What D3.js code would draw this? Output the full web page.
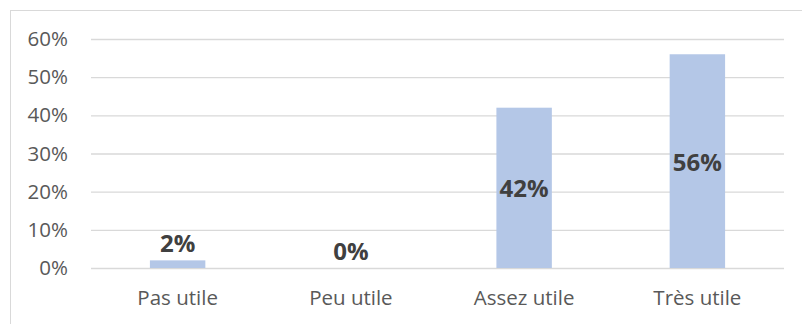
<!DOCTYPE html>
<html>
<head>
<meta charset="utf-8">
<script src="https://cdn.jsdelivr.net/npm/d3@7"></script>
<style>
  html, body { margin: 0; padding: 0; background: #fff; }
  svg { display: block; }
</style>
</head>
<body>
<svg id="chart" width="802" height="324"></svg>
<script>
// Réponses à la question d'utilité
const categories = ["Pas utile", "Peu utile", "Assez utile", "Très utile"];
const values = [0.02, 0.00, 0.42, 0.56];
const tickValues = [0, 0.1, 0.2, 0.3, 0.4, 0.5, 0.6];

const svg = d3.select("#chart");
const W = 802, H = 324;
const margin = { left: 91, right: 18, top: 39, bottom: 56 };
const font = "'Open Sans', 'Noto Sans', sans-serif";

// Chart frame
svg.append("rect")
  .attr("x", 10.5).attr("y", 10.5)
  .attr("width", W + 10).attr("height", H + 10)
  .attr("fill", "none").attr("stroke", "#d9d9d9").attr("stroke-width", 1);

const x = d3.scaleBand()
  .domain(categories)
  .range([margin.left, W - margin.right])
  .paddingInner(0.68).paddingOuter(0.34);

const y = d3.scaleLinear()
  .domain([0, 0.6])
  .range([H - margin.bottom, margin.top]);

// Horizontal gridlines with percentage labels
const yAxis = d3.axisLeft(y)
  .tickValues(tickValues)
  .tickFormat(d3.format(".0%"))
  .tickSize(-(W - margin.right - margin.left))
  .tickPadding(23);

const gy = svg.append("g")
  .attr("transform", `translate(${margin.left},0)`)
  .call(yAxis);
gy.select(".domain").remove();
gy.selectAll(".tick line").attr("stroke", "#d9d9d9").attr("stroke-width", 1.3);
gy.selectAll(".tick text")
  .attr("fill", "#595959")
  .style("font-family", font)
  .style("font-size", "20.5px");

// Category axis
const xAxis = d3.axisBottom(x).tickSize(0).tickPadding(22);
const gx = svg.append("g")
  .attr("transform", `translate(0,${H - margin.bottom})`)
  .call(xAxis);
gx.select(".domain").remove();
gx.selectAll(".tick text")
  .attr("fill", "#595959")
  .style("font-family", font)
  .style("font-size", "20.5px");

// Bars
svg.append("g").selectAll("rect")
  .data(values)
  .join("rect")
  .attr("x", (d, i) => x(categories[i]))
  .attr("y", d => y(d))
  .attr("width", x.bandwidth())
  .attr("height", d => y(0) - y(d))
  .attr("fill", "#b4c7e7");

// Value labels: centred inside tall bars, above short ones
svg.append("g").selectAll("text")
  .data(values)
  .join("text")
  .attr("x", (d, i) => x(categories[i]) + x.bandwidth() / 2)
  .attr("y", d => d > 0.1 ? (y(d) + y(0)) / 2 : y(d) - 18)
  .attr("text-anchor", "middle")
  .attr("dominant-baseline", "central")
  .attr("fill", "#404040")
  .style("font-family", font)
  .style("font-size", "24px")
  .style("font-weight", "bold")
  .text(d => d3.format(".0%")(d));
</script>
</body>
</html>
